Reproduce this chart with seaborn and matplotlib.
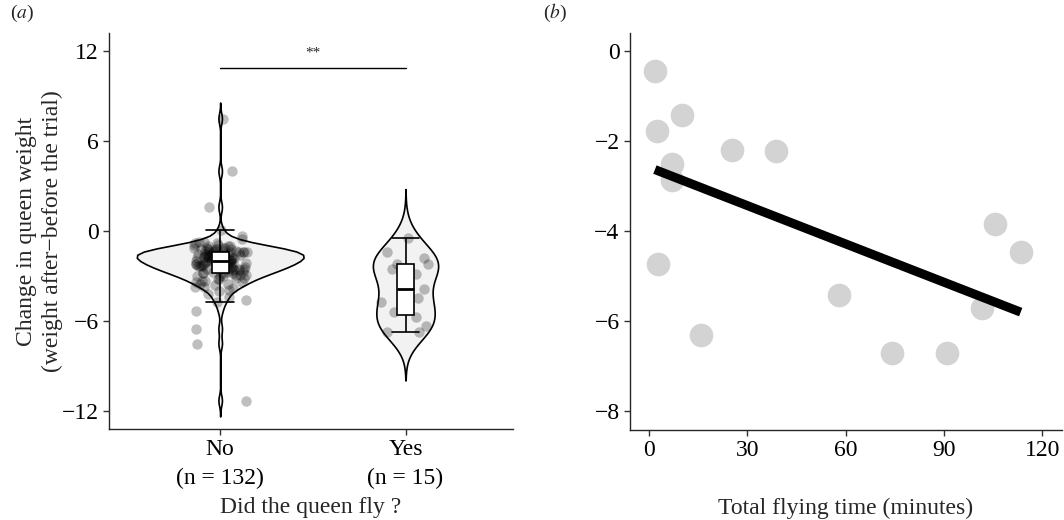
import numpy as np
import pandas as pd
import matplotlib
matplotlib.use("Agg")
import matplotlib.pyplot as plt
import seaborn as sns

# ---- data ----
# weight change of queens that did not fly, as value / count pairs
no_values = [7.5, 4.0, 1.6, 0.1, -0.3, -0.5, -0.7, -0.8, -0.9, -1.0, -1.1, -1.2, -1.3, -1.4,
             -1.5, -1.6, -1.7, -1.8, -1.9, -2.0,
             -2.1, -2.2, -2.3, -2.4, -2.5, -2.6, -2.7,
             -2.8, -2.9, -3.0, -3.1, -3.2, -3.3, -3.4, -3.5, -3.6, -3.7, -3.8, -3.9, -4.0,
             -4.2, -4.4, -4.6, -4.75, -5.3, -6.5, -7.5, -11.3]
no_counts = [1, 1, 1, 1, 1, 1, 2, 2, 2, 3, 4, 5, 5, 6,
             6, 6, 6, 5, 5, 5,
             5, 5, 5, 4, 4, 4, 3,
             4, 3, 3, 2, 2, 2, 2, 2, 1, 2, 1, 1, 1,
             1, 1, 1, 1, 1, 1, 1, 1]

# queens that flew: total flying time (min) and weight change
flying_time = [1.8, 2.3, 10.2, 7.1, 7.1, 25.3, 38.7, 2.6, 15.8, 58.1, 74.1, 91.0, 101.6, 105.7, 113.4]
yes_change = [-0.44, -1.77, -1.43, -2.51, -2.86, -2.20, -2.22, -4.73, -6.30, -5.43, -6.72, -6.70,
              -5.71, -3.84, -4.47]

groups = ["No", "Yes"]
group_labels = ["No\n(n = 132)", "Yes\n(n = 15)"]
sig_label = "**"
sig_y = 10.9

no_change = np.repeat(no_values, no_counts)
df = pd.DataFrame({
    "flew": ["No"] * len(no_change) + ["Yes"] * len(yes_change),
    "change": np.concatenate([no_change, yes_change]),
})
df_fly = pd.DataFrame({"time": flying_time, "change": yes_change})


def nrd0_factor(kde):
    # R's bw.nrd0 expressed as a gaussian_kde factor
    x = kde.dataset[0]
    sd = np.std(x, ddof=1)
    q75, q25 = np.percentile(x, [75, 25])
    lo = min(sd, (q75 - q25) / 1.34)
    bw = 0.9 * lo * len(x) ** (-0.2)
    return bw / sd


sns.set_style("ticks")
plt.rcParams["font.family"] = ["Liberation Serif", "DejaVu Serif"]
plt.rcParams["mathtext.fontset"] = "stix"
plt.rcParams["axes.linewidth"] = 1.0
plt.rcParams["xtick.major.width"] = 1.0
plt.rcParams["ytick.major.width"] = 1.0
plt.rcParams["xtick.major.size"] = 4
plt.rcParams["ytick.major.size"] = 4
plt.rcParams["xtick.color"] = "#333333"
plt.rcParams["ytick.color"] = "#333333"
plt.rcParams["xtick.labelcolor"] = "black"
plt.rcParams["ytick.labelcolor"] = "black"

FS = 17
W, H = 1064, 520
fig = plt.figure(figsize=(W / 100, H / 100), dpi=100)
ax1 = fig.add_axes([109 / W, (H - 429) / H, (513 - 109) / W, (429 - 33) / H])
ax2 = fig.add_axes([630 / W, (H - 430) / H, (1062 - 630) / W, (430 - 33) / H])

# ---- panel a ----
sns.violinplot(data=df, x="flew", y="change", order=groups, color="#f2f2f2", saturation=1,
               linecolor="black", linewidth=1.2, inner=None, cut=3, bw_method=nrd0_factor,
               width=0.9, density_norm="area", ax=ax1, zorder=1)
np.random.seed(3)
sns.stripplot(data=df, x="flew", y="change", order=groups, jitter=0.15, color="black",
              alpha=0.25, size=7.5, linewidth=0, ax=ax1, zorder=2)
sns.boxplot(data=df, x="flew", y="change", order=groups, width=0.09, showfliers=False,
            color="white", saturation=1, linecolor="black", linewidth=1.2,
            medianprops={"linewidth": 2.0}, capwidths=0.15, ax=ax1, zorder=3)
ax1.plot([0, 1], [sig_y, sig_y], color="black", lw=1.0)
ax1.text(0.5, sig_y + 0.5, sig_label, ha="center", va="bottom", fontsize=11)

ax1.set_xlim(-0.6, 1.58)
ax1.set_ylim(-13.2, 13.2)
ax1.set_yticks([-12, -6, 0, 6, 12])
ax1.set_xticks([0, 1])
ax1.set_xticklabels(group_labels, fontsize=FS, linespacing=1.45)
ax1.tick_params(axis="y", labelsize=FS)
ax1.set_ylabel("Change in queen weight\n(weight after\u2212before the trial)", fontsize=FS,
               linespacing=1.25)
ax1.set_xlabel("Did the queen fly ?", fontsize=FS)
ax1.xaxis.set_label_coords(0.5, -0.172)
ax1.yaxis.set_label_coords(-0.115, 0.5)

# ---- panel b ----
sns.regplot(data=df_fly, x="time", y="change", ci=None, truncate=True, ax=ax2,
            scatter_kws={"s": 290, "color": "#d3d3d3", "alpha": 1, "linewidths": 0},
            line_kws={"color": "black", "lw": 6.5, "solid_capstyle": "butt"})
ax2.set_xlim(-5.8, 126)
ax2.set_ylim(-8.42, 0.4)
ax2.set_xticks([0, 30, 60, 90, 120])
ax2.set_yticks([0, -2, -4, -6, -8])
ax2.tick_params(labelsize=FS)
ax2.set_ylabel("")
ax2.set_xlabel("Total flying time (minutes)", fontsize=FS)
ax2.xaxis.set_label_coords(0.5, -0.172)

for ax in (ax1, ax2):
    sns.despine(ax=ax)

fig.text(10 / W, 1 - 13 / H, r"($\it{a}$)", fontsize=14, va="center", ha="left")
fig.text(543 / W, 1 - 13 / H, r"($\it{b}$)", fontsize=14, va="center", ha="left")

fig.savefig("out.png", dpi=100, facecolor="white")
